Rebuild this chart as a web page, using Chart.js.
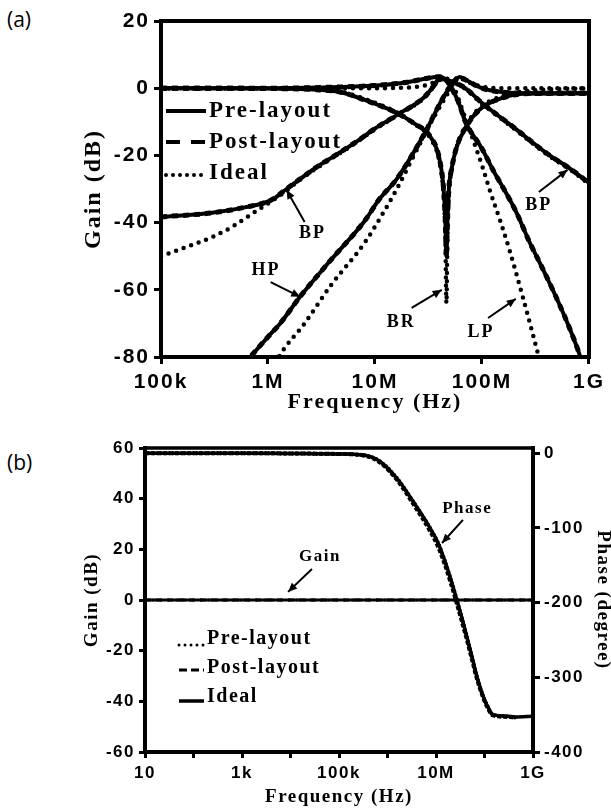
<!DOCTYPE html>
<html>
<head>
<meta charset="utf-8">
<script src="https://cdn.jsdelivr.net/npm/chart.js@4.4.0/dist/chart.umd.min.js"></script>
<style>
  body { margin: 0; background: #fff; width: 611px; height: 810px; position: relative; overflow: hidden; }
  .tag { position: absolute; left: 7px; font-family: "Open Sans", sans-serif; font-size: 21px; line-height: 27px; color: #000; }
  canvas { position: absolute; left: 0; }
</style>
</head>
<body>
<div class="tag" style="top:6px">(a)</div>
<div class="tag" style="top:449px">(b)</div>
<canvas id="chartA" width="611" height="420" style="top:0"></canvas>
<canvas id="chartB" width="611" height="390" style="top:420px"></canvas>
<script>
// ---- (a) filter responses: LP / BP / HP / BR ----
const freqTicksA = [1e5, 1e6, 1e7, 1e8, 1e9];
const freqLabelsA = ['100k', '1M', '10M', '100M', '1G'];
const gainTicksA = [-80, -60, -40, -20, 0, 20];

const LP_FREQ = [1e5, 1e6, 3e6, 1e7, 2e7, 3e7, 4e7, 4.6e7, 5.4e7, 6e7, 7e7, 1e8, 1.3e8, 1.6e8, 2.1e8, 2.8e8, 3.6e8, 4.9e8, 6.5e8, 8.3e8, 9e8];
const LP_PRE = [0, 0, 0.2, 0.8, 1.8, 2.9, 3.4, 2.5, -1, -4, -10, -18, -25, -30, -37, -46, -53, -62, -71, -80, -84];
const LP_IDEAL_FREQ = [1e5, 1e7, 2e7, 3e7, 4e7, 4.5e7, 5e7, 5.5e7, 6e7, 7e7, 1e8, 1.2e8, 1.5e8, 1.8e8, 2.4e8, 3.4e8, 3.6e8];
const LP_IDEAL = [0, 0, 0.2, 0.9, 2.4, 3.0, 2.2, 0, -3, -9, -23, -31, -40, -48, -62, -80, -83];

const BP_FREQ = [1e5, 3e5, 6.2e5, 1.07e6, 1.45e6, 1.9e6, 3e6, 4.5e6, 7e6, 1e7, 1.6e7, 2.9e7, 3.6e7, 4e7, 4.6e7, 6.7e7, 1e8, 1.95e8, 4e8, 6.9e8, 1e9];
const BP_PRE = [-38.3, -37.1, -35.4, -33.3, -30.3, -27.5, -23, -19.5, -15.5, -12, -8, -2.6, 1, 3, 2.4, 0.4, -4.4, -11.5, -19.3, -24.3, -28.2];
const BP_IDEAL_FREQ = [1e5, 1.5e5, 3e5, 4.6e5, 7e5, 1e6, 1.45e6, 1.9e6, 3e6, 4.5e6, 7e6, 1e7, 1.6e7, 2.9e7, 3.6e7, 4e7, 4.6e7, 6.7e7, 1e8, 1.95e8, 4e8, 6.9e8, 1e9];
const BP_IDEAL = [-50, -48, -44.3, -41.3, -37.5, -34.3, -30.8, -27.7, -23.3, -19.7, -15.7, -12.2, -8.2, -2.8, 0.8, 2.8, 2.4, 0.2, -4.6, -11.8, -19.6, -24.6, -28.5];

const HP_FREQ = [6e5, 1e6, 1.3e6, 2e6, 3.9e6, 8e6, 1.1e7, 1.6e7, 2.9e7, 4.3e7, 5.3e7, 6.2e7, 7e7, 1e8, 1.58e8, 3e8, 1e9];
const HP_PRE = [-82, -74, -70, -62, -51, -39.5, -33, -27, -13.5, -3, 1.5, 3.3, 2.5, 0, -1.2, -1.5, -1.5];
const HP_IDEAL_FREQ = [1.1e6, 1.26e6, 2.2e6, 3.8e6, 8e6, 1.1e7, 1.6e7, 2.4e7, 3.5e7, 4.5e7, 5.5e7, 6.2e7, 7e7, 1e8, 1.6e8, 1e9];
const HP_IDEAL = [-84, -80, -70, -59, -46, -39, -30, -19, -9, -3, 1.5, 3, 2.2, 0.5, 0, 0];

const BR_FREQ = [1e5, 1e6, 3e6, 4.8e6, 8e6, 1.6e7, 2.3e7, 3.3e7, 4e7, 4.4e7, 4.55e7, 4.65e7, 4.75e7, 4.9e7, 5.2e7, 5.8e7, 7.1e7, 9.4e7, 1.58e8, 2.75e8, 1e9];
const BR_PRE = [0, -0.1, -0.5, -1.2, -3.5, -7.4, -10.4, -14.5, -21, -31, -40, -50, -40, -30, -24, -17.5, -11.5, -6.5, -2.8, -1.6, -1.5];
const BR_IDEAL = [0, 0, -0.3, -1, -3.2, -7.2, -10.5, -15, -22, -33, -45, -64, -45, -32, -24.5, -17.5, -11, -6, -2.2, -0.8, 0];

// post-layout traces sit on top of the pre-layout ones
const LP_POST = LP_PRE, BP_POST = BP_PRE, HP_POST = HP_PRE, BR_POST = BR_PRE;

// ---- (b) open-loop gain / phase ----
const freqTicksB = [1e1, 1e2, 1e3, 1e4, 1e5, 1e6, 1e7, 1e8, 1e9];
const freqLabelsB = ['10', '', '1k', '', '100k', '', '10M', '', '1G'];
const gainTicksB = [-60, -40, -20, 0, 20, 40, 60];
const phaseTicksB = [-400, -300, -200, -100, 0];

const GAIN_FREQ = [1e1, 1e9];
const GAIN_DB = [0, 0];

const PHASE_FREQ = [1e1, 1e3, 1e4, 1e5, 3.16e5, 7e5, 1.58e6, 3.4e6, 7.5e6, 1.1e7, 1.5e7, 2e7, 2.6e7, 3.4e7, 4.3e7, 5.5e7, 6.9e7, 9e7, 1.12e8, 1.5e8, 2.9e8, 4.3e8];
const PHASE_PRE = [0, 0, -0.3, -1, -2.5, -11, -34, -65, -100, -120, -143, -168, -193, -220, -245, -272, -298, -322, -337, -350, -352, -354];
const PHASE_POST = [0, 0, -0.3, -1, -3, -12.5, -36, -68, -104, -125, -148, -173, -198, -225, -249, -276, -301, -324, -339, -351, -353, -354];
const PHASE_IDEAL_FREQ = [1e1, 1e3, 1e4, 1e5, 3.16e5, 7e5, 1.58e6, 3.4e6, 7.5e6, 1.1e7, 1.5e7, 2e7, 2.6e7, 3.4e7, 4.3e7, 5.5e7, 6.9e7, 9e7, 1.12e8, 1.5e8, 2.9e8, 4.3e8, 1e9];
const PHASE_IDEAL = [0, 0, -0.3, -1, -2.5, -11, -34, -65, -100, -120, -143, -168, -193, -220, -245, -272, -298, -322, -337, -350, -352, -353, -352];

// ---- helpers ----
const SANS = '"Liberation Sans", Arial, sans-serif';
const SERIF = '"Liberation Serif", "Times New Roman", serif';

function pts(freq, vals) {
  return freq.map((f, i) => ({ x: f, y: vals[i] }));
}

const STYLE = {
  pre: { borderWidth: 4 },
  post: { borderWidth: 5, borderDash: [6, 5] },
  ideal: { borderWidth: 4.5, borderDash: [0, 8], borderCapStyle: 'round' }
};

function trace(label, freq, vals, kind, extra) {
  return Object.assign({
    label: label,
    data: pts(freq, vals),
    borderColor: '#000',
    backgroundColor: '#000',
    pointRadius: 0,
    fill: false,
    cubicInterpolationMode: 'monotone'
  }, STYLE[kind], extra || {});
}

function arrow(ctx, x0, y0, x1, y1) {
  ctx.beginPath();
  ctx.moveTo(x0, y0);
  ctx.lineTo(x1, y1);
  ctx.stroke();
  const a = Math.atan2(y1 - y0, x1 - x0), L = 9, W = 4;
  ctx.beginPath();
  ctx.moveTo(x1, y1);
  ctx.lineTo(x1 - L * Math.cos(a) + W * Math.sin(a), y1 - L * Math.sin(a) - W * Math.cos(a));
  ctx.lineTo(x1 - L * Math.cos(a) - W * Math.sin(a), y1 - L * Math.sin(a) + W * Math.cos(a));
  ctx.closePath();
  ctx.fill();
}

function spacing(px) {
  return { id: 'spacing', beforeDraw(chart) { chart.ctx.letterSpacing = px; } };
}

function frame(width) {
  return {
    id: 'frame',
    afterDatasetsDraw(chart) {
      const { ctx, chartArea: a } = chart;
      ctx.save();
      ctx.strokeStyle = '#000';
      ctx.lineWidth = width;
      ctx.strokeRect(a.left, a.top, a.right - a.left, a.bottom - a.top);
      ctx.restore();
    }
  };
}

// labelled arrows, placed in data units
function notes(list, yId, fontSize) {
  return {
    id: 'notes',
    afterDraw(chart) {
      const { ctx } = chart;
      const sx = chart.scales.x, sy = chart.scales[yId];
      ctx.save();
      ctx.fillStyle = '#000';
      ctx.strokeStyle = '#000';
      ctx.lineWidth = 2;
      ctx.font = 'bold ' + fontSize + 'px ' + SERIF;
      ctx.textAlign = 'center';
      ctx.textBaseline = 'middle';
      list.forEach(n => {
        ctx.fillText(n.text, sx.getPixelForValue(n.at[0]), sy.getPixelForValue(n.at[1]));
        arrow(ctx, sx.getPixelForValue(n.from[0]), sy.getPixelForValue(n.from[1]),
                   sx.getPixelForValue(n.to[0]), sy.getPixelForValue(n.to[1]));
      });
      ctx.restore();
    }
  };
}

// in-plot legend: [label, sample kind, row offset from top]
function legendBox(rows, opts) {
  return {
    id: 'legendBox',
    afterDraw(chart) {
      const { ctx, chartArea: a } = chart;
      ctx.save();
      ctx.fillStyle = '#000';
      ctx.strokeStyle = '#000';
      ctx.font = 'bold ' + opts.size + 'px ' + SERIF;
      ctx.textBaseline = 'middle';
      ctx.textAlign = 'left';
      rows.forEach(r => {
        const y = a.top + r[2];
        const s = opts.samples[r[1]];
        ctx.lineWidth = s.width;
        ctx.lineCap = s.cap || 'butt';
        ctx.setLineDash(s.dash || []);
        ctx.beginPath();
        ctx.moveTo(a.left + opts.x0, y + s.dy);
        ctx.lineTo(a.left + opts.x1, y + s.dy);
        ctx.stroke();
        ctx.setLineDash([]);
        ctx.fillText(r[0], a.left + opts.tx, y);
      });
      ctx.restore();
    }
  };
}

function axisStyle(size, tickLen, pad) {
  return {
    ticks: { color: '#000', font: { family: SANS, weight: 'bold', size: size }, padding: pad, autoSkip: false, maxRotation: 0 },
    grid: { drawOnChartArea: false, tickLength: tickLen, lineWidth: 3, color: '#000' },
    border: { display: true, color: '#000', width: 4 }
  };
}

// ---- chart (a) ----
const notesA = [
  { text: 'BP', at: [2.6e6, -43.1], from: [2.2e6, -39.8], to: [1.49e6, -30.3] },
  { text: 'HP', at: [0.96e6, -54.1], from: [1.06e6, -57.7], to: [2.0e6, -62.1] },
  { text: 'BR', at: [1.76e7, -69.6], from: [2.2e7, -65.4], to: [4.2e7, -60] },
  { text: 'LP', at: [9.8e7, -72.6], from: [1.14e8, -68.4], to: [2.07e8, -62.7] },
  { text: 'BP', at: [3.4e8, -34.8], from: [3.4e8, -30.9], to: [6.3e8, -24.3] }
];

new Chart(document.getElementById('chartA'), {
  type: 'line',
  data: {
    datasets: [
      trace('LP pre', LP_FREQ, LP_PRE, 'pre'),
      trace('BP pre', BP_FREQ, BP_PRE, 'pre'),
      trace('HP pre', HP_FREQ, HP_PRE, 'pre'),
      trace('BR pre', BR_FREQ, BR_PRE, 'pre'),
      trace('LP post', LP_FREQ, LP_POST, 'post'),
      trace('BP post', BP_FREQ, BP_POST, 'post'),
      trace('HP post', HP_FREQ, HP_POST, 'post'),
      trace('BR post', BR_FREQ, BR_POST, 'post'),
      trace('LP ideal', LP_IDEAL_FREQ, LP_IDEAL, 'ideal'),
      trace('BP ideal', BP_IDEAL_FREQ, BP_IDEAL, 'ideal'),
      trace('HP ideal', HP_IDEAL_FREQ, HP_IDEAL, 'ideal'),
      trace('BR ideal', BR_FREQ, BR_IDEAL, 'ideal')
    ]
  },
  options: {
    responsive: false,
    animation: false,
    events: [],
    layout: { padding: { left: 70, top: 21, right: 17, bottom: 0 } },
    plugins: { legend: { display: false }, tooltip: { enabled: false } },
    scales: {
      x: Object.assign(axisStyle(21, 7, 6), {
        type: 'logarithmic', min: 1e5, max: 1e9,
        afterBuildTicks: s => { s.ticks = freqTicksA.map(v => ({ value: v })); },
        afterFit: s => { s.height = 63; },
        title: { display: true, text: 'Frequency (Hz)', color: '#000', font: { family: SERIF, weight: 'bold', size: 22 }, padding: { top: 0, bottom: 4 } }
      }),
      y: Object.assign(axisStyle(21, 7, 4), {
        min: -80, max: 20,
        afterBuildTicks: s => { s.ticks = gainTicksA.map(v => ({ value: v })); },
        afterFit: s => { s.width = 91; },
        title: { display: true, text: 'Gain (dB)', color: '#000', font: { family: SERIF, weight: 'bold', size: 24 }, padding: { top: 9, bottom: 0 } }
      })
    }
  },
  plugins: [
    spacing('2px'),
    frame(4),
    notes(notesA, 'y', 18),
    legendBox([['Pre-layout', 'solid', 90], ['Post-layout', 'dash', 121], ['Ideal', 'dot', 152]], {
      size: 23, x0: 5, x1: 45, tx: 48,
      samples: {
        solid: { width: 4, dy: 0 },
        dash: { width: 4, dash: [14, 11], dy: 0 },
        dot: { width: 4, dash: [0, 7], cap: 'round', dy: 2 }
      }
    })
  ]
});

// ---- chart (b) ----
const notesB = [
  { text: 'Gain', at: [4.05e4, 17], from: [2.77e4, 12.2], to: [8.9e3, 3.2] },
  { text: 'Phase', at: [4.4e7, 35.9], from: [3.6e7, 31.6], to: [1.33e7, 22.5] }
];

new Chart(document.getElementById('chartB'), {
  type: 'line',
  data: {
    datasets: [
      trace('Gain ideal', GAIN_FREQ, GAIN_DB, 'pre', { borderWidth: 3 }),
      trace('Gain post', GAIN_FREQ, GAIN_DB, 'post', { borderWidth: 3 }),
      trace('Gain pre', GAIN_FREQ, GAIN_DB, 'ideal', { borderWidth: 3 }),
      trace('Phase pre', PHASE_FREQ, PHASE_PRE, 'ideal', { yAxisID: 'y2', borderWidth: 4, borderDash: [0, 4] }),
      trace('Phase post', PHASE_FREQ, PHASE_POST, 'post', { yAxisID: 'y2', borderWidth: 4, borderDash: [4, 2] }),
      trace('Phase ideal', PHASE_IDEAL_FREQ, PHASE_IDEAL, 'pre', { yAxisID: 'y2', borderWidth: 3.5 })
    ]
  },
  options: {
    responsive: false,
    animation: false,
    events: [],
    layout: { padding: { left: 75, top: 28, right: 0, bottom: 0 } },
    plugins: { legend: { display: false }, tooltip: { enabled: false } },
    scales: {
      x: Object.assign(axisStyle(17, 6, 5), {
        type: 'logarithmic', min: 1e1, max: 1e9,
        afterBuildTicks: s => { s.ticks = freqTicksB.map(v => ({ value: v })); },
        ticks: { color: '#000', font: { family: SANS, weight: 'bold', size: 17 }, padding: 5, autoSkip: false, maxRotation: 0,
                 callback: v => freqLabelsB[freqTicksB.indexOf(v)] },
        afterFit: s => { s.height = 58; },
        title: { display: true, text: 'Frequency (Hz)', color: '#000', font: { family: SERIF, weight: 'bold', size: 19 }, padding: { top: 0, bottom: 2 } }
      }),
      y: Object.assign(axisStyle(17, 6, 4), {
        min: -60, max: 60,
        afterBuildTicks: s => { s.ticks = gainTicksB.map(v => ({ value: v })); },
        afterFit: s => { s.width = 70; },
        title: { display: true, text: 'Gain (dB)', color: '#000', font: { family: SERIF, weight: 'bold', size: 19 }, padding: { top: 6, bottom: 0 } }
      }),
      y2: Object.assign(axisStyle(17, 7, 4), {
        position: 'right', min: -400, max: 7,
        afterBuildTicks: s => { s.ticks = phaseTicksB.map(v => ({ value: v })); },
        afterFit: s => { s.width = 78; },
        title: { display: true, text: 'Phase (degree)', color: '#000', font: { family: SERIF, weight: 'bold', size: 19, lineHeight: 0.9 }, padding: { top: 0, bottom: 0 } }
      })
    }
  },
  plugins: [
    spacing('1.5px'),
    frame(3.5),
    notes(notesB, 'y', 17),
    legendBox([['Pre-layout', 'dot', 191], ['Post-layout', 'dash', 220], ['Ideal', 'solid', 249]], {
      size: 20, x0: 34, x1: 59, tx: 62,
      samples: {
        dot: { width: 3, dash: [0, 6], cap: 'round', dy: 6 },
        dash: { width: 3, dash: [8, 4], dy: 2 },
        solid: { width: 3.5, dy: 4 }
      }
    })
  ]
});

// x tick labels for chart (a)
Chart.getChart('chartA').options.scales.x.ticks.callback = v => freqLabelsA[freqTicksA.indexOf(v)];
Chart.getChart('chartA').update();
</script>
</body>
</html>
